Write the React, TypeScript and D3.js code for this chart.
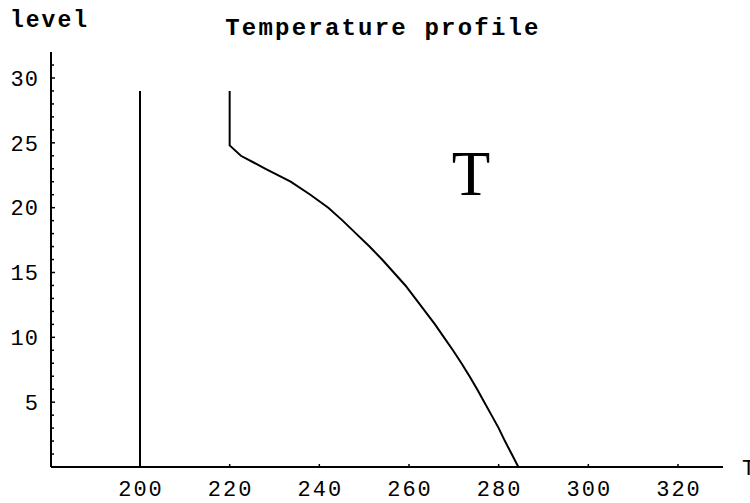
import React from "react";
import * as d3 from "d3";

const levels = [0,1,2,3,4,5,6,7,8,9,10,11,12,13,14,15,16,17,18,19,20,21,22,23,24,24.8,26,27,28,29];
const temps = [284.4,282.9,281.4,280.0,278.4,276.8,275.2,273.5,271.7,269.8,267.8,265.8,263.6,261.4,259.2,256.6,254.0,251.2,248.2,245.2,242.0,238.0,233.6,228.0,222.5,220,220,220,220,220];
const isoLevels = [0, 29];
const isoTemp = 200;
const xTicks = [200,220,240,260,280,300,320];
const yMajor = [5,10,15,20,25,30];
const yMinor = d3.range(1, 32);

const W = 750, H = 503;
const x = d3.scaleLinear().domain([200, 320]).range([140, 678]);
const y = d3.scaleLinear().domain([0, 30]).range([467, 78]);
const xMin = x.invert(51), xMax = x.invert(723);
const yMaxV = y.invert(52);

export default function App() {
  const line = d3.line<[number, number]>().x(d => x(d[0])).y(d => y(d[1]));
  const prof: [number, number][] = temps.map((t, i) => [t, levels[i]]);
  const iso: [number, number][] = isoLevels.map(l => [isoTemp, l]);
  const mono = "'Liberation Mono', 'DejaVu Sans Mono', monospace";
  return (
    <svg width={W} height={H} style={{ position: "absolute", left: 0, top: 0, background: "#fff" }}>
      <rect width={W} height={H} fill="#fff" />
      <text x={10} y={27} fontFamily={mono} fontWeight="bold" fontSize={23} letterSpacing={2}>level</text>
      <text x={383} y={35} textAnchor="middle" fontFamily={mono} fontWeight="bold" fontSize={24} letterSpacing={2.2}>Temperature profile</text>
      {/* axes */}
      <line x1={x(xMin)} x2={x(xMax)} y1={y(0)} y2={y(0)} stroke="#000" strokeWidth={2} />
      <line x1={x(xMin)} x2={x(xMin)} y1={y(0)} y2={y(yMaxV)} stroke="#000" strokeWidth={2} />
      {xTicks.map(t => (
        <g key={t}>
          <line x1={x(t)} x2={x(t)} y1={y(0)} y2={y(0) - 3} stroke="#000" strokeWidth={1.5} />
          <text x={x(t) + 1} y={496} textAnchor="middle" fontFamily={mono} fontSize={22} letterSpacing={2}>{t}</text>
        </g>
      ))}
      {yMinor.map(t => (
        <line key={t} x1={x(xMin)} x2={x(xMin) + (t % 5 === 0 ? 4 : 3)} y1={y(t)} y2={y(t)} stroke="#000" strokeWidth={1.5} />
      ))}
      {yMajor.map(t => (
        <text key={t} x={39} y={y(t)} dy="0.35em" textAnchor="end" fontFamily={mono} fontSize={22} letterSpacing={1}>{t}</text>
      ))}
      <text x={742} y={475} fontFamily={mono} fontSize={22}>T</text>
      <path d={line(iso) || ""} fill="none" stroke="#000" strokeWidth={2} />
      <path d={line(prof) || ""} fill="none" stroke="#000" strokeWidth={2} />
      <text x={471} y={195} textAnchor="middle" fontFamily="'Liberation Serif', 'DejaVu Serif', serif" fontSize={63}>T</text>
    </svg>
  );
}
